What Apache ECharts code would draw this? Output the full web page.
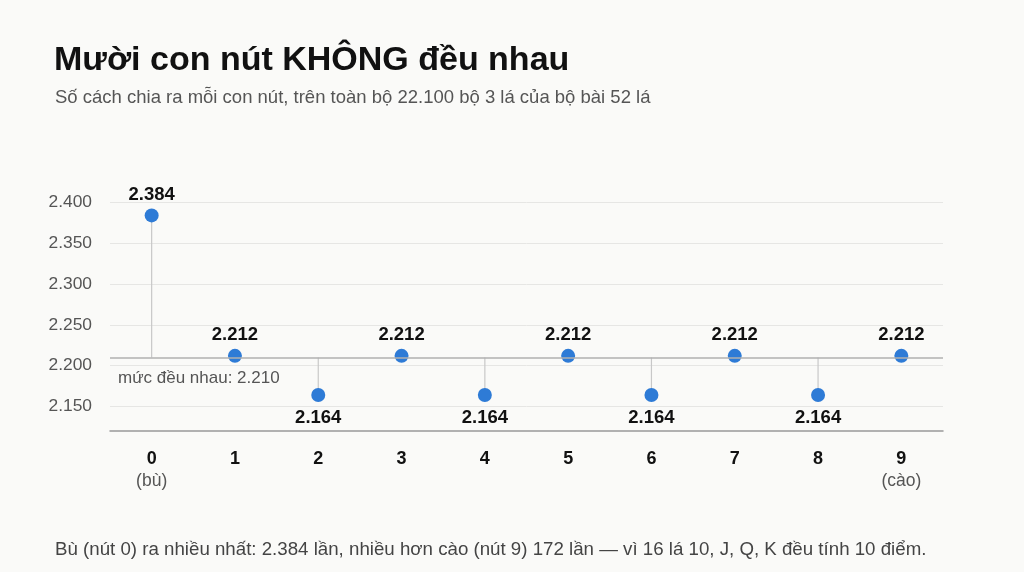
<!DOCTYPE html>
<html>
<head>
<meta charset="utf-8">
<script src="https://cdn.jsdelivr.net/npm/echarts@6/dist/echarts.min.js"></script>
<style>
html,body{margin:0;padding:0;background:#fafaf8;}
#chart{width:1024px;height:572px;}
</style>
</head>
<body>
<div id="chart"></div>
<script>
const categories = ['0','1','2','3','4','5','6','7','8','9'];
const subLabels = ['bù','','','','','','','','','cào'];
const counts = [2384, 2212, 2164, 2212, 2164, 2212, 2164, 2212, 2164, 2212];
const meanLevel = 2210;
const yMin = 2120;
const yMax = 2420;

const fmt = v => String(v).replace(/\B(?=(\d{3})+(?!\d))/g, '.');
const FONT = '"Liberation Sans", Arial, sans-serif';

const chart = echarts.init(document.getElementById('chart'));
chart.setOption({
  backgroundColor: '#fafaf8',
  animation: false,
  textStyle: { fontFamily: FONT },
  title: [
    { text: 'Mười con nút KHÔNG đều nhau', left: 49, top: 39,
      textStyle: { fontFamily: FONT, fontSize: 34, fontWeight: 'bold', color: '#111' } },
    { text: 'Số cách chia ra mỗi con nút, trên toàn bộ 22.100 bộ 3 lá của bộ bài 52 lá', left: 50, top: 83,
      textStyle: { fontFamily: FONT, fontSize: 18.5, fontWeight: 'normal', color: '#555' } },
    { text: 'Bù (nút 0) ra nhiều nhất: 2.384 lần, nhiều hơn cào (nút 9) 172 lần — vì 16 lá 10, J, Q, K đều tính 10 điểm.', left: 50, top: 535,
      textStyle: { fontFamily: FONT, fontSize: 18.7, fontWeight: 'normal', color: '#444' } }
  ],
  grid: { left: 110, right: 81, top: 186, bottom: 141 },
  xAxis: {
    type: 'category',
    data: categories,
    boundaryGap: true,
    axisLine: { show: true, lineStyle: { color: '#999', width: 1.5 } },
    axisTick: { show: false },
    axisLabel: {
      margin: 18,
      formatter: (v, i) => subLabels[i] ? '{n|' + v + '}\n{s|(' + subLabels[i] + ')}' : '{n|' + v + '}',
      rich: {
        n: { fontFamily: FONT, fontSize: 18, fontWeight: 'bold', color: '#111', lineHeight: 21 },
        s: { fontFamily: FONT, fontSize: 17.5, color: '#555', lineHeight: 22 }
      }
    }
  },
  yAxis: {
    type: 'value',
    min: yMin,
    max: yMax,
    splitNumber: 6,
    axisLine: { show: false },
    axisTick: { show: false },
    axisLabel: {
      showMinLabel: false, showMaxLabel: false,
      margin: 18, fontSize: 17.4, color: '#555', fontFamily: FONT,
      formatter: v => fmt(v)
    },
    splitLine: { show: true, showMinLine: false, showMaxLine: false, lineStyle: { color: '#e6e6e4', width: 1 } }
  },
  series: [
    {
      type: 'custom',
      z: 1,
      data: counts.map((v, i) => [i, v]),
      renderItem: (params, api) => {
        const p0 = api.coord([api.value(0), meanLevel]);
        const p1 = api.coord([api.value(0), api.value(1)]);
        return { type: 'line', shape: { x1: p0[0], y1: p0[1], x2: p1[0], y2: p1[1] },
                 style: { stroke: '#c8c8c8', lineWidth: 1.2 } };
      },
      silent: true
    },
    {
      type: 'scatter',
      z: 3,
      symbolSize: 14,
      itemStyle: { color: '#2e7bd6', opacity: 1 },
      data: counts.map((v, i) => ({
        value: [i, v],
        label: v >= meanLevel ? { position: 'top', distance: 4 } : { position: 'bottom', distance: 6 }
      })),
      label: {
        show: true, distance: 6,
        fontFamily: FONT, fontSize: 18.5, fontWeight: 'bold', color: '#111',
        formatter: p => fmt(p.value[1])
      },
      markLine: {
        silent: true,
        symbol: 'none',
        lineStyle: { color: '#b0b0b0', width: 1.5, type: 'solid' },
        label: {
          show: true, position: 'insideStartBottom', distance: [8, 12],
          fontFamily: FONT, fontSize: 17, color: '#555',
          formatter: 'mức đều nhau: ' + fmt(meanLevel)
        },
        data: [{ yAxis: meanLevel }]
      }
    }
  ]
});
</script>
</body>
</html>
